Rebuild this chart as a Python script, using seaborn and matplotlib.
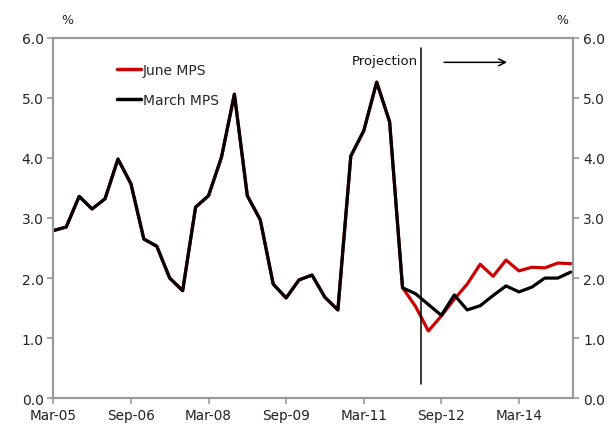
import matplotlib
matplotlib.use("Agg")
import matplotlib.pyplot as plt
import seaborn as sns
import pandas as pd
import numpy as np
from matplotlib.lines import Line2D

# Quarterly periods Mar-05 .. Mar-15
quarters = [p.strftime("%b-%y") for p in pd.period_range("2005Q1", "2015Q1", freq="Q").to_timestamp(how="end")]
# Shared history (through the first projection quarter)
history = [2.79, 2.85, 3.36, 3.15, 3.32, 3.98, 3.57, 2.65, 2.53, 2.00, 1.79, 3.18,
           3.37, 4.01, 5.06, 3.37, 2.97, 1.90, 1.67, 1.97, 2.05, 1.68, 1.47, 4.03,
           4.45, 5.26, 4.60, 1.84]
june_proj = [1.53, 1.12, 1.37, 1.65, 1.90, 2.23, 2.03, 2.30, 2.12, 2.18, 2.17, 2.25, 2.24]
march_proj = [1.74, 1.56, 1.38, 1.72, 1.47, 1.54, 1.71, 1.87, 1.77, 1.85, 2.00, 2.00, 2.10]
series_names = ["June MPS", "March MPS"]
tick_labels = ["Mar-05", "Sep-06", "Mar-08", "Sep-09", "Mar-11", "Sep-12", "Mar-14"]
y_ticks = [0.0, 1.0, 2.0, 3.0, 4.0, 5.0, 6.0]
projection_start = 28.4

june = history + june_proj
march = history + march_proj
n = len(june)
df = pd.DataFrame({
    "idx": list(range(n)) * 2,
    "quarter": quarters[:n] * 2,
    "value": june + march,
    "series": [series_names[0]] * n + [series_names[1]] * n,
})

sns.set_theme(style="white")
plt.rcParams["font.family"] = ["DejaVu Sans"]

fig = plt.figure(figsize=(6.14, 4.27), dpi=100)
ax = fig.add_axes([0.0868, 0.0649, 0.8469, 0.8445])

sns.lineplot(data=df, x="idx", y="value", hue="series",
             palette={"June MPS": "#cc0000", "March MPS": "#000000"},
             linewidth=2.3, ax=ax, legend=False, sort=False)

ax.set_xlim(0, 40.2)
ax.set_ylim(0, 6)
ax.set_xlabel("")
ax.set_ylabel("")
tick_pos = [quarters.index(t) for t in tick_labels]
ax.set_xticks(tick_pos)
ax.set_xticklabels(tick_labels, fontsize=9.8, color="#222222")
ax.set_yticks(y_ticks)
ax.set_yticklabels([f"{v:.1f}" for v in y_ticks], fontsize=10, color="#222222")

ax2 = ax.twinx()
ax2.set_ylim(0, 6)
ax2.set_yticks(y_ticks)
ax2.set_yticklabels([f"{v:.1f}" for v in y_ticks], fontsize=10, color="#222222")

for a in (ax, ax2):
    for s in a.spines.values():
        s.set_color("#999999")
        s.set_linewidth(1.5)
    a.tick_params(axis="both", which="both", length=4, width=1.2, color="#999999", direction="out")
ax.tick_params(axis="y", left=True, pad=3)
ax.tick_params(axis="x", bottom=True, pad=3)
ax2.tick_params(axis="y", right=True, pad=3)

# projection marker
ax.plot([projection_start, projection_start], [0.24, 5.83], color="black", linewidth=1.1)
ax.text(projection_start - 0.25, 5.62, "Projection", ha="right", va="center", fontsize=9.5, color="#111111")
ax.annotate("", xy=(35.3, 5.59), xytext=(30.0, 5.59),
            arrowprops=dict(arrowstyle="->", color="black", lw=1.1))

# legend (no frame)
handles = [Line2D([0], [0], color="#cc0000", lw=2.5), Line2D([0], [0], color="black", lw=2.5)]
leg = ax.legend(handles, series_names, loc="upper left", bbox_to_anchor=(0.099, 0.965),
                frameon=False, fontsize=10, handlelength=1.7, handletextpad=0.15, labelspacing=1.16)

fig.text(67 / 614, 1 - 20 / 427, "%", ha="center", va="center", fontsize=9)
fig.text(562 / 614, 1 - 20 / 427, "%", ha="center", va="center", fontsize=9)

fig.savefig("out.png", dpi=100)
